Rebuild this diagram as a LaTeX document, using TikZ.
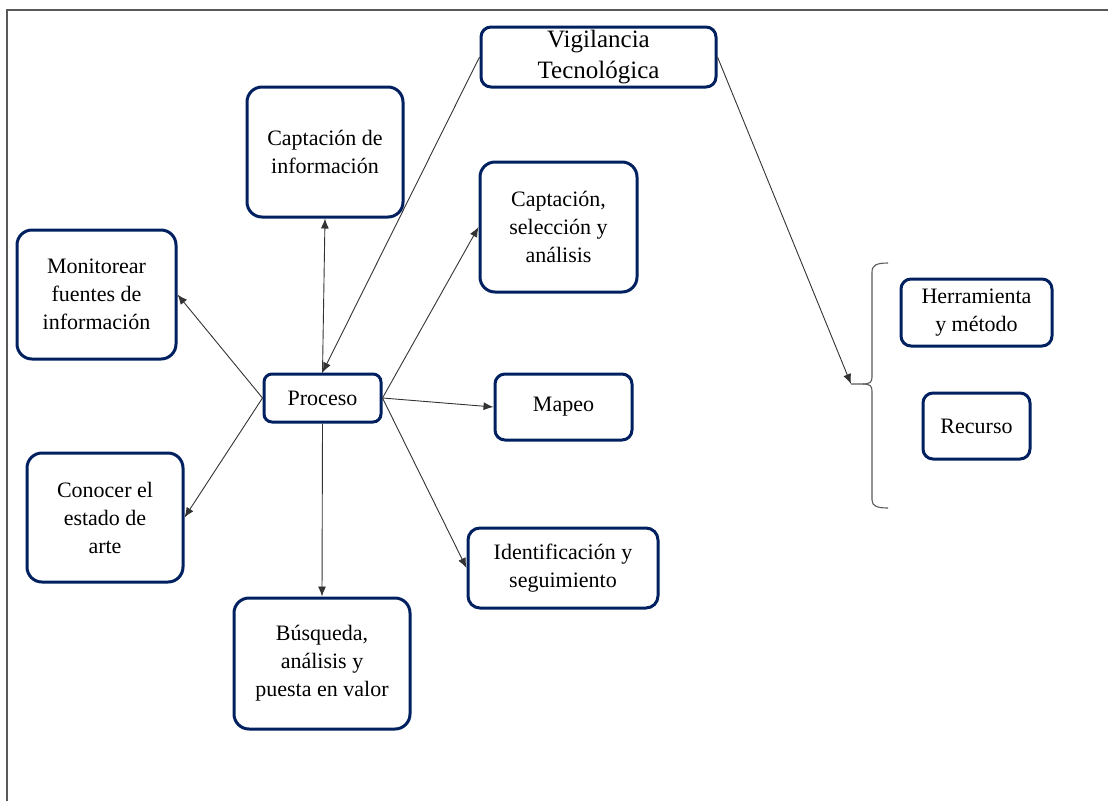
\documentclass[tikz,border=0pt]{standalone}
\usepackage{fontspec}
\setmainfont{Liberation Serif}
\usetikzlibrary{arrows.meta}
\definecolor{navy}{RGB}{0,32,96}
\begin{document}
\begin{tikzpicture}[x=1pt,y=-1pt,
  box/.style={draw=navy, line width=3pt, rounded corners=15pt, align=center,
    font=\fontsize{22}{28}\selectfont, inner sep=0pt, text=black},
  smallbox/.style={box, rounded corners=10pt},
  conn/.style={draw=black!80, line width=0.9pt, -{Latex[length=10pt,width=8pt]}},
  bracel/.style={draw=black!65, line width=1.1pt},
  framel/.style={draw=black!65, line width=1.8pt}]
\useasboundingbox (0,0) rectangle (1108,801);
\draw[framel] (7,801) -- (7,10) -- (1108,10);

\node[smallbox, minimum width=235pt, minimum height=60pt,
  font=\fontsize{25}{30}\selectfont] (vig) at (598.5,57) {\raisebox{-4pt}{\shortstack{Vigilancia\\[5pt]Tecnológica}}};
\node[box, minimum width=156pt, minimum height=130pt] (cap1) at (325,152) {Captación de\\información};
\node[box, minimum width=157pt, minimum height=130pt] (cap2) at (558.5,227) {Captación,\\selección y\\análisis};
\node[box, minimum width=159pt, minimum height=129pt] (mon) at (96.5,294.5) {Monitorear\\fuentes de\\información};
\node[smallbox, rounded corners=8pt, minimum width=117pt, minimum height=48pt] (proc) at (322.5,398) {Proceso};
\node[smallbox, minimum width=137pt, minimum height=66pt] (mapeo) at (563.5,407) {Mapeo};
\node[box, minimum width=156pt, minimum height=129pt] (con) at (105,517.5) {Conocer el\\estado de\\arte};
\node[smallbox, rounded corners=12pt, minimum width=190pt, minimum height=80pt] (ident) at (563,568) {Identificación y\\seguimiento};
\node[box, minimum width=176pt, minimum height=131pt] (busq) at (322,663.5) {Búsqueda,\\análisis y\\puesta en valor};
\node[smallbox, minimum width=151pt, minimum height=67pt] (herr) at (976.5,312.5) {Herramienta\\y método};
\node[smallbox, minimum width=107pt, minimum height=66pt] (rec) at (976.5,426) {Recurso};

% brace
\draw[bracel] (888,263) .. controls (877,263) and (872,265) .. (872,272) -- (872,377)
  .. controls (872,382) and (870,384) .. (863,384) -- (851,384);
\draw[bracel] (863,384) .. controls (870,384) and (872,386) .. (872,391) -- (872,500)
  .. controls (872,506) and (877,508) .. (888,508);
\coordinate (tip) at (851,384);

\draw[conn] (vig.east) -- (tip);
\draw[conn] (vig.west) -- (proc.north);
\draw[conn] (proc.north) -- (cap1.south);
\draw[conn] (proc.south) -- (busq.north);
\draw[conn] (proc.west) -- (mon.east);
\draw[conn] (proc.west) -- (con.east);
\draw[conn] (proc.east) -- (cap2.west);
\draw[conn] (proc.east) -- (mapeo.west);
\draw[conn] (proc.east) -- (ident.west);
\end{tikzpicture}
\end{document}
